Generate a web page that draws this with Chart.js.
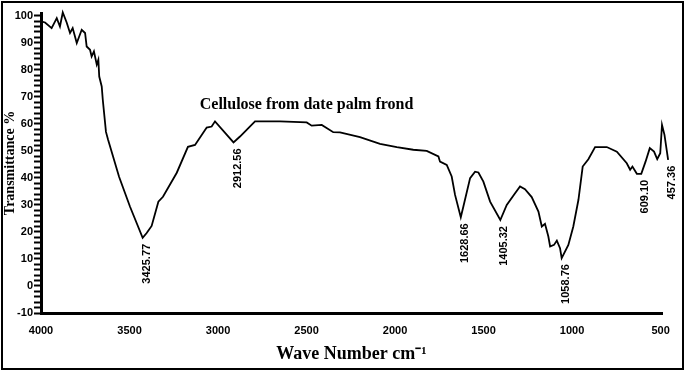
<!DOCTYPE html>
<html lang="en">
<head>
    <meta charset="UTF-8">
    <title>FTIR - Cellulose from date palm frond</title>
    <style>
        body {
            margin: 0;
            background: #fff;
        }
        canvas {
            display: block;
        }
    </style>
</head>
<body>
    <canvas id="ftirChart" width="685" height="371"></canvas>

    <script src="https://cdn.jsdelivr.net/npm/chart.js"></script>
    <script>
        // wave number (cm-1) and transmittance (%)
        const waveNumbers = [
            4000, 3977, 3940, 3911, 3893, 3877, 3855, 3836, 3821, 3798,
            3770, 3751, 3742, 3723, 3714, 3701, 3685, 3676, 3671, 3657,
            3651, 3633, 3621, 3559, 3497, 3425.77, 3403, 3375, 3337, 3311,
            3233, 3170, 3130, 3064, 3036, 3017, 2912.56, 2876, 2791, 2650,
            2499, 2471, 2414, 2349, 2311, 2198, 2085, 1990, 1897, 1821,
            1755, 1746, 1708, 1680, 1661, 1628.66, 1614, 1576, 1548, 1529,
            1501, 1463, 1405.32, 1369, 1322, 1294, 1266, 1228, 1190, 1171,
            1153, 1134, 1124, 1102, 1086, 1068, 1058.76, 1021, 993, 964,
            940, 908, 870, 804, 747, 691, 672, 659, 634, 609.10,
            585, 561, 537, 519, 502, 492, 478, 457.36
        ];
        const transmittance = [
            97.9, 97.5, 95.4, 99.1, 96.0, 101.2, 97.5, 93.6, 95.4, 89.9,
            94.8, 93.6, 88.6, 87.4, 84.9, 86.8, 81.9, 83.7, 77.5, 73.8,
            68.9, 57.0, 54.1, 40.4, 29.3, 17.8, 19.6, 22.2, 31.2, 33.0,
            41.9, 51.5, 52.2, 58.6, 59.0, 60.9, 53.1, 55.3, 60.9, 60.9,
            60.5, 59.3, 59.6, 56.9, 56.8, 55.1, 52.6, 51.4, 50.4, 50.0,
            47.9, 46.0, 44.8, 40.5, 33.7, 25.4, 29.4, 39.9, 42.3, 42.0,
            38.6, 31.2, 24.4, 30.0, 34.3, 36.8, 35.8, 32.9, 27.5, 22.0,
            23.0, 18.3, 14.6, 15.2, 16.8, 14.0, 10.3, 15.2, 22.0, 31.9,
            44.2, 46.9, 51.4, 51.4, 49.7, 45.4, 43.0, 44.2, 41.5, 41.5,
            46.0, 51.0, 49.7, 46.9, 49.1, 59.6, 55.9, 46.7
        ];

        // labelled bands
        const peakWaves = [3425.77, 2912.56, 1628.66, 1405.32, 1058.76, 609.10, 457.36];
        const peakLabels = ['3425.77', '2912.56', '1628.66', '1405.32', '1058.76', '609.10', '457.36'];

        const xTicks = [4000, 3500, 3000, 2500, 2000, 1500, 1000, 500];
        const yTicks = [];
        for (let v = -10; v <= 100; v += 2) yTicks.push(v);  // minor marks every 2 %

        const sampleName = 'Cellulose from date palm frond';

        const sans = '"Liberation Sans", Arial, sans-serif';
        const serif = '"Liberation Serif", "Times New Roman", serif';

        // frame, sample name and band labels
        const extras = {
            id: 'extras',
            afterDatasetsDraw(chart) {
                const ctx = chart.ctx;
                const xs = chart.scales.x;
                const ys = chart.scales.y;
                ctx.save();

                ctx.fillStyle = '#000';
                ctx.font = 'bold 16px ' + serif;
                ctx.textAlign = 'center';
                ctx.textBaseline = 'middle';
                ctx.fillText(sampleName, xs.getPixelForValue(2500), ys.getPixelForValue(67));

                ctx.font = 'bold 11px ' + sans;
                peakWaves.forEach((w, i) => {
                    const idx = waveNumbers.indexOf(w);
                    const px = xs.getPixelForValue(w) + 4;
                    const py = ys.getPixelForValue(transmittance[idx]) + 6;
                    ctx.save();
                    ctx.translate(px, py);
                    ctx.rotate(-Math.PI / 2);
                    ctx.textAlign = 'right';
                    ctx.textBaseline = 'middle';
                    ctx.fillText(peakLabels[i], 0, 0);
                    ctx.restore();
                });

                ctx.strokeStyle = '#000';
                ctx.lineWidth = 2;
                ctx.strokeRect(2, 2, chart.width - 4, chart.height - 4);
                ctx.restore();
            }
        };

        const ctx = document.getElementById('ftirChart').getContext('2d');
        const ftirChart = new Chart(ctx, {
            type: 'line',
            data: {
                datasets: [{
                    data: waveNumbers.map((w, i) => ({ x: w, y: transmittance[i] })),
                    borderColor: '#000',
                    borderWidth: 1.8,
                    pointRadius: 0,
                    tension: 0,
                    fill: false,
                    clip: false
                }]
            },
            options: {
                responsive: false,
                animation: false,
                devicePixelRatio: 1,
                layout: {
                    padding: { top: 13, right: 23, left: 0, bottom: 0 }
                },
                plugins: {
                    legend: { display: false },
                    tooltip: { enabled: false }
                },
                scales: {
                    x: {
                        type: 'linear',
                        reverse: true,
                        min: 492,
                        max: 4000,
                        afterBuildTicks: (s) => { s.ticks = xTicks.map(v => ({ value: v })); },
                        afterFit: (s) => { s.height = 58; },
                        grid: { display: false, drawTicks: false },
                        border: { display: true, color: '#000', width: 3 },
                        ticks: {
                            color: '#000',
                            padding: 11,
                            maxRotation: 0,
                            font: { family: sans, size: 11, weight: 'bold' },
                            callback: (v) => String(v)
                        },
                        title: {
                            display: true,
                            text: 'Wave Number cm\u207B\u00B9',
                            color: '#000',
                            font: { family: serif, size: 18, weight: 'bold' },
                            padding: { top: 0, bottom: 6 }
                        }
                    },
                    y: {
                        min: -10,
                        max: 101,
                        afterBuildTicks: (s) => { s.ticks = yTicks.map(v => ({ value: v })); },
                        afterFit: (s) => { s.width = 41; },
                        grid: {
                            drawOnChartArea: false,
                            drawTicks: true,
                            tickLength: 7,
                            tickWidth: 2,
                            tickColor: '#000'
                        },
                        border: { display: true, color: '#000', width: 3 },
                        ticks: {
                            color: '#000',
                            padding: 1,
                            autoSkip: false,
                            font: { family: sans, size: 11, weight: 'bold' },
                            callback: (v) => (v % 10 === 0 ? String(v) : '')
                        },
                        title: {
                            display: true,
                            text: 'Transmittance %',
                            color: '#000',
                            font: { family: serif, size: 14, weight: 'bold' },
                            padding: { top: 2, bottom: 0 }
                        }
                    }
                }
            },
            plugins: [extras]
        });
    </script>
</body>
</html>
